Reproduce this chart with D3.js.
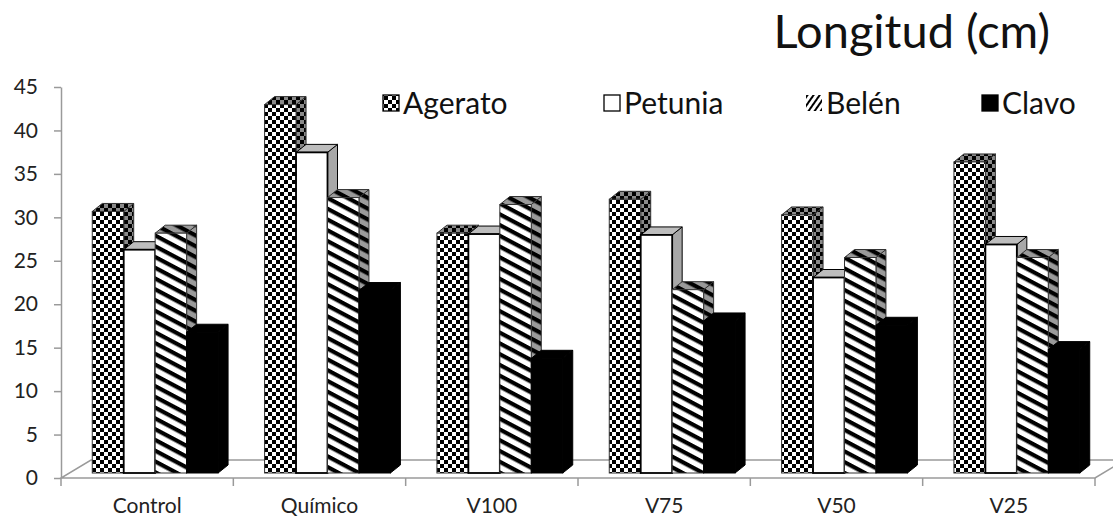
<!DOCTYPE html>
<html>
<head>
<meta charset="utf-8">
<script src="https://cdn.jsdelivr.net/npm/d3@7"></script>
<style>
  html, body { margin: 0; padding: 0; background: #fff; }
  svg { display: block; font-family: Lato, "Open Sans", sans-serif; }
</style>
</head>
<body>
<div id="chart"></div>
<script>
// DATA
const categories = ['Control', 'Químico', 'V100', 'V75', 'V50', 'V25'];
const seriesNames = ['Agerato', 'Petunia', 'Belén', 'Clavo'];
const agerato = [30.1, 42.4, 27.6, 31.5, 29.7, 35.8];
const petunia = [25.7, 36.9, 27.5, 27.4, 22.5, 26.3];
const belen   = [27.6, 31.7, 30.9, 21.1, 24.8, 24.8];
const clavo   = [16.2, 21.0, 13.2, 17.5, 17.0, 14.2];
const yTicks  = [0, 5, 10, 15, 20, 25, 30, 35, 40, 45];
const titleText = 'Longitud (cm)';

const seriesValues = [agerato, petunia, belen, clavo];

const width = 1113, height = 519;
const svg = d3.select('#chart').append('svg')
    .attr('width', width)
    .attr('height', height)
    .attr('viewBox', `0 0 ${width} ${height}`);

// PATTERNS
const defs = svg.append('defs');
function checker(id, bg) {
    const p = defs.append('pattern').attr('id', id)
        .attr('patternUnits', 'userSpaceOnUse').attr('width', 8).attr('height', 8);
    p.append('rect').attr('width', 8).attr('height', 8).attr('fill', bg);
    p.append('rect').attr('width', 4).attr('height', 4).attr('fill', '#000');
    p.append('rect').attr('x', 4).attr('y', 4).attr('width', 4).attr('height', 4).attr('fill', '#000');
}
function stripes(id, bg, angle, period, thick) {
    const p = defs.append('pattern').attr('id', id)
        .attr('patternUnits', 'userSpaceOnUse').attr('width', period).attr('height', period)
        .attr('patternTransform', `rotate(${angle})`);
    p.append('rect').attr('width', period).attr('height', period).attr('fill', bg);
    p.append('rect').attr('width', period).attr('height', thick).attr('fill', '#000');
}
checker('chk', '#fff');
checker('chkDark', '#8a8a8a');
stripes('str', '#fff', 28, 9.5, 4.2);
stripes('strDark', '#9a9a9a', 28, 9.5, 4.2);
stripes('strLeg', '#fff', -55, 5, 2);

const faces = [
    { front: 'url(#chk)', top: 'url(#chkDark)', side: 'url(#chkDark)', stroke: '#333' },
    { front: '#fff', top: '#bdbdbd', side: '#a8a8a8', stroke: '#000' },
    { front: 'url(#str)', top: 'url(#strDark)', side: 'url(#strDark)', stroke: '#333' },
    { front: '#000', top: '#000', side: '#000', stroke: '#000' }
];

// SCALES
const axisX0 = 61, axisX1 = 1095;
const y = d3.scaleLinear().domain([0, 45]).range([478, 87]);
const x = d3.scaleBand().domain(categories).range([axisX0, axisX1])
    .paddingInner(0.27).paddingOuter(0.135);
const xs = d3.scaleBand().domain(seriesNames).range([0, x.bandwidth()]);

// 3D offsets
const planeDx = 8, planeDy = -5;     // bars sit a little behind the front edge
const depthDx = 10, depthDy = -8;    // bar thickness
const floorDx = 30, floorDy = -18;

// FLOOR
const floor = d3.path();
floor.moveTo(axisX0, y(0));
floor.lineTo(axisX1, y(0));
floor.lineTo(axisX1 + floorDx, y(0) + floorDy);
floor.lineTo(axisX0 + floorDx, y(0) + floorDy);
floor.closePath();
svg.append('path').attr('d', floor.toString())
    .attr('fill', 'none').attr('stroke', '#9a9a9a').attr('stroke-width', 1.5);

// BARS
const bars = svg.append('g');
categories.forEach((cat, ci) => {
    seriesNames.forEach((s, si) => {
        const v = seriesValues[si][ci];
        const f = faces[si];
        const x0 = x(cat) + xs(s) + planeDx;
        const w = xs.bandwidth();
        const yt = y(v) + planeDy;
        const yb = y(0) + planeDy;
        const g = bars.append('g');
        g.append('path')
            .attr('d', `M${x0 + w},${yt}L${x0 + w + depthDx},${yt + depthDy}L${x0 + w + depthDx},${yb + depthDy}L${x0 + w},${yb}Z`)
            .attr('fill', f.side).attr('stroke', f.stroke).attr('stroke-width', 1);
        g.append('path')
            .attr('d', `M${x0},${yt}L${x0 + w},${yt}L${x0 + w + depthDx},${yt + depthDy}L${x0 + depthDx},${yt + depthDy}Z`)
            .attr('fill', f.top).attr('stroke', f.stroke).attr('stroke-width', 1);
        g.append('rect')
            .attr('x', x0).attr('y', yt).attr('width', w).attr('height', yb - yt)
            .attr('fill', f.front).attr('stroke', f.stroke)
            .attr('stroke-width', si === 1 ? 1.8 : 1);
    });
});

// Y AXIS
svg.append('g')
    .attr('transform', `translate(${axisX0},0)`)
    .call(d3.axisLeft(y).tickValues(yTicks).tickSize(7).tickSizeOuter(0).tickPadding(16))
    .call(g => g.select('.domain').attr('stroke', '#9a9a9a').attr('stroke-width', 1.5))
    .call(g => g.selectAll('.tick line').attr('stroke', '#9a9a9a').attr('stroke-width', 1.5))
    .call(g => g.selectAll('.tick text')
        .attr('fill', '#222').attr('font-size', 21).attr('font-family', 'Lato, sans-serif'));

// X AXIS TICKS + LABELS
const xEdges = d3.range(categories.length + 1).map(i => axisX0 + i * x.step());
svg.append('g').selectAll('line').data(xEdges).join('line')
    .attr('x1', d => d).attr('x2', d => d)
    .attr('y1', y(0)).attr('y2', y(0) + 8)
    .attr('stroke', '#9a9a9a').attr('stroke-width', 1.5);
svg.append('g').selectAll('text').data(categories).join('text')
    .attr('x', (d, i) => axisX0 + (i + 0.5) * x.step())
    .attr('y', 513)
    .attr('text-anchor', 'middle')
    .attr('font-size', 21)
    .attr('fill', '#222')
    .text(d => d);

// TITLE
svg.append('text')
    .attr('x', 1050).attr('y', 48)
    .attr('text-anchor', 'end')
    .attr('font-size', 47)
    .attr('fill', '#111')
    .text(titleText);

// LEGEND
const legendX = [383, 604, 806, 982];
const legendFill = ['url(#chk)', '#fff', 'url(#strLeg)', '#000'];
const legend = svg.append('g');
seriesNames.forEach((s, i) => {
    legend.append('rect')
        .attr('x', legendX[i]).attr('y', 95).attr('width', 16).attr('height', 16)
        .attr('fill', legendFill[i])
        .attr('stroke', i === 2 ? 'none' : '#000').attr('stroke-width', 1.3);
    legend.append('text')
        .attr('x', legendX[i] + 20).attr('y', 114)
        .attr('font-size', 30)
        .attr('fill', '#111')
        .text(s);
});
</script>
</body>
</html>
